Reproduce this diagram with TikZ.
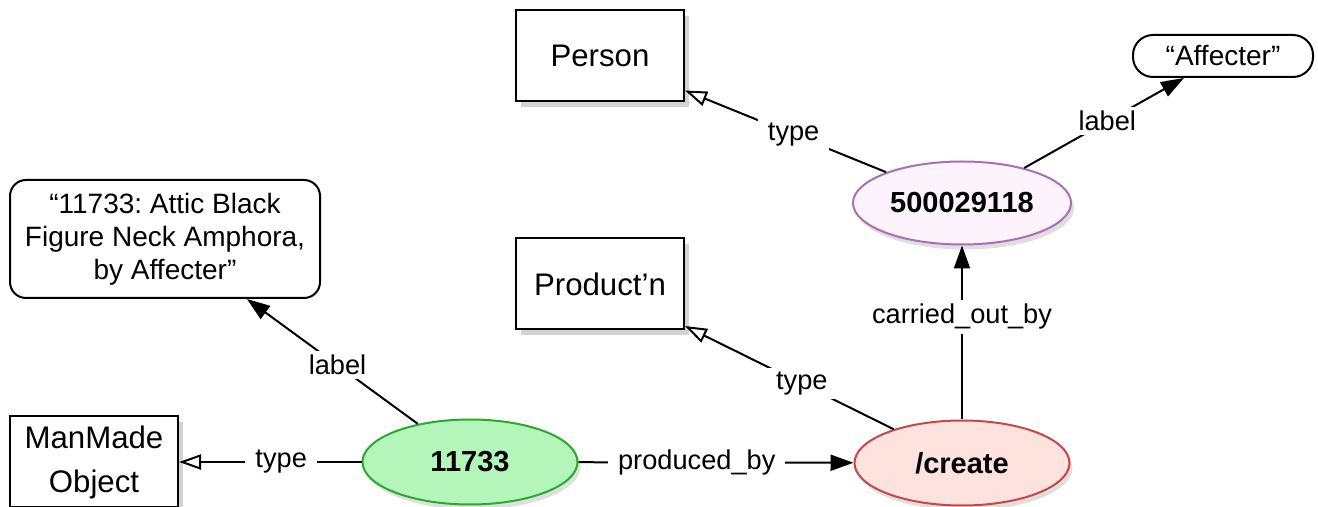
\documentclass[tikz,border=0pt]{standalone}
\usepackage{fontspec}
\setmainfont{Liberation Sans}
\usetikzlibrary{arrows.meta}
\usetikzlibrary{shapes,shadows}
\definecolor{objgreen}{RGB}{180,246,186}
\definecolor{objgreenline}{RGB}{40,170,45}
\definecolor{evpink}{RGB}{253,226,222}
\definecolor{evpinkline}{RGB}{200,70,70}
\definecolor{actpurple}{RGB}{253,243,253}
\definecolor{actpurpleline}{RGB}{170,110,185}
\frenchspacing

\begin{document}
\begin{tikzpicture}[x=0.5pt,y=-0.5pt]
\tikzset{cls/.style = {rectangle,draw,line width=1pt,fill=white,minimum width=84pt,minimum height=45.5pt,align=center,font=\fontsize{15.6}{22}\selectfont,drop shadow={shadow xshift=2.5pt,shadow yshift=-3pt,opacity=0.35,fill=black!50}}}
\tikzset{res/.style = {ellipse,line width=1pt,inner sep=0pt,minimum width=107.5pt,minimum height=42.5pt,font=\bfseries\fontsize{14.5}{17}\selectfont,drop shadow={shadow xshift=1.5pt,shadow yshift=-2.5pt,opacity=0.25,fill=black!50}}}
\tikzset{lit/.style = {rectangle,draw,line width=1pt,fill=white,align=center,font=\fontsize{14}{16.5}\selectfont}}
\tikzset{prop/.style = {fill=white,inner xsep=5pt,inner ysep=2pt,font=\fontsize{13.6}{16}\selectfont}}
\tikzset{isa/.style = {-{Triangle[open,length=11pt,width=7.5pt]},line width=1pt}}
\tikzset{rel/.style = {-{Triangle[length=11.5pt,width=8pt]},line width=1pt}}
\useasboundingbox (0,0) rectangle (1318,507);
% vertices
\node[cls] (mmo) at (94,462) {ManMade\\Object};
\node[cls] (person) at (600,56) {Person};
\node[cls] (prod) at (600,284) {Product’n};
\node[lit,rounded corners=8pt,minimum width=155pt,minimum height=59pt] (title) at (165,239) {“11733: Attic Black\\Figure Neck Amphora,\\by Affecter”};
\node[lit,rounded corners=10pt,minimum width=90pt,minimum height=21pt] (name) at (1223,56) {“Affecter”};
\node[res,draw=objgreenline,fill=objgreen] (obj) at (470,462) {11733};
\node[res,draw=evpinkline,fill=evpink] (create) at (962,463) {/create};
\node[res,draw=actpurpleline,fill=actpurple,minimum width=109pt,minimum height=41.5pt] (actor) at (962,203) {500029118};
%edges
\draw[isa] (obj) -- node[prop,pos=0.44] {type} (mmo);
\draw[rel] (obj) -- node[prop,pos=0.47] {label} (title);
\draw[rel] (obj) -- node[prop,pos=0.43] {produced\_by} (create);
\draw[isa] (create) -- node[prop,pos=0.44] {type} (prod);
\draw[rel] (create) -- node[prop,pos=0.59] {carried\_out\_by} (actor);
\draw[isa] (actor) -- node[prop,pos=0.46] {type} (person);
\draw[rel] (actor) -- node[prop,pos=0.52] {label} (name);
\end{tikzpicture}
\end{document}
